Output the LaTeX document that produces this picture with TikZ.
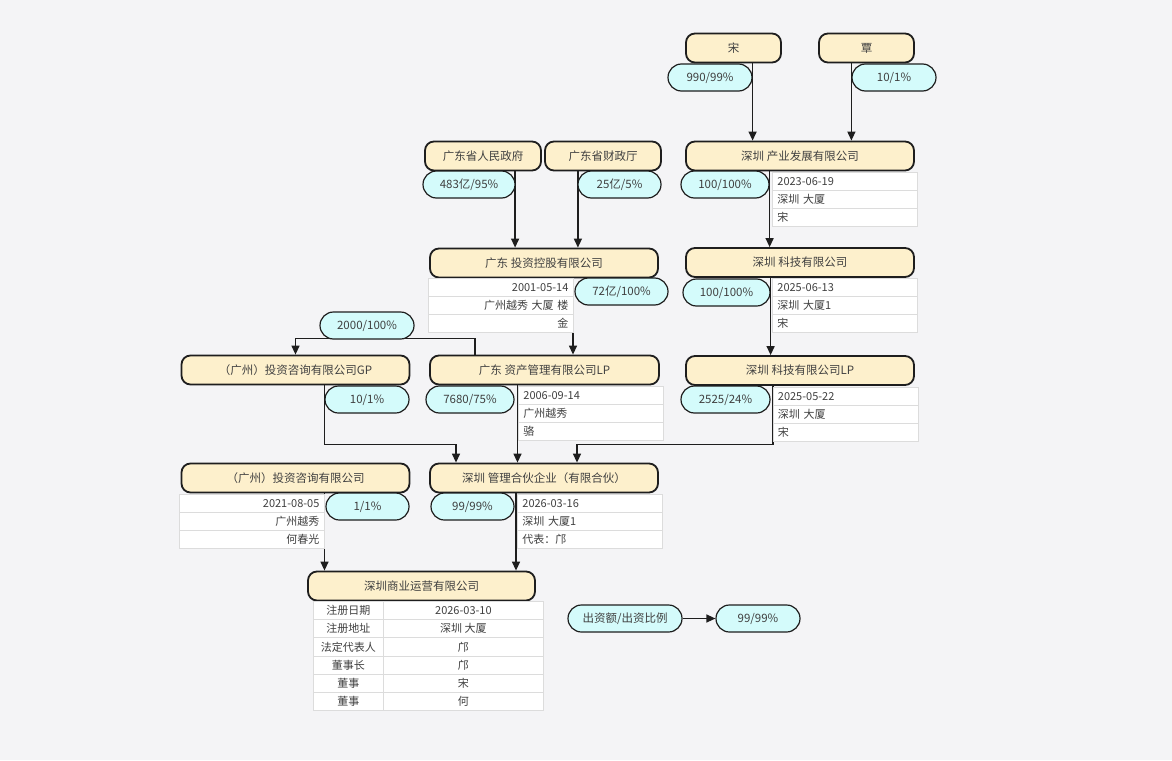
\documentclass[tikz,border=0pt]{standalone}
\usepackage{fontspec}
\setmainfont{Noto Sans CJK SC}
\usetikzlibrary{arrows.meta}
\definecolor{bgc}{HTML}{F4F4F6}
\definecolor{coyel}{HTML}{FDF0CC}
\definecolor{pilc}{HTML}{D4FBFB}
\definecolor{txtc}{HTML}{404040}
\definecolor{cellline}{HTML}{DCDCDC}
\definecolor{linec}{HTML}{1E1E1E}
\pgfdeclarelayer{back}
\pgfdeclarelayer{lines}
\pgfsetlayers{back,lines,main}
\begin{document}
\begin{tikzpicture}[x=1pt,y=-1pt,
  co/.style={draw=linec, line width=1.8pt, fill=coyel, rounded corners=9pt, minimum height=29pt, inner sep=0pt, text=txtc, font=\fontsize{11.5}{13}\selectfont},
  pill/.style={draw=linec, line width=1.2pt, fill=pilc, rounded corners=13.5pt, minimum height=27pt, inner sep=0pt, text=txtc, font=\fontsize{11.5}{13}\selectfont},
  cell/.style={draw=cellline, line width=0.8pt, fill=white, minimum height=18pt, inner ysep=0pt, inner xsep=5pt, text width=135pt, align=left, anchor=north west, text=txtc, font=\fontsize{11}{12}\selectfont},
  cellr/.style={cell, align=right},
  cellc/.style={draw=cellline, line width=0.8pt, fill=white, minimum height=18.2pt, inner sep=0pt, anchor=north west, text=txtc, font=\fontsize{11}{12}\selectfont},
  arr/.style={draw=linec, line width=1.3pt, -{Triangle[length=9pt,width=8pt]}}
]
\useasboundingbox (0,0) rectangle (1172,760);
\begin{pgfonlayer}{back}
\fill[bgc] (0,0) rectangle (1172,760);
\end{pgfonlayer}

% company boxes
\node[co, minimum width=95pt] (song) at (733.5,48) {宋};
\node[co, minimum width=95pt] (qin) at (866.5,48) {覃};
\node[co, minimum width=228pt] (cy) at (800,156) {深圳 产业发展有限公司};
\node[co, minimum width=116pt] (gdgov) at (483,156) {广东省人民政府};
\node[co, minimum width=116pt] (gdcz) at (603,156) {广东省财政厅};
\node[co, minimum width=228pt] (gdtk) at (544,263) {广东 投资控股有限公司};
\node[co, minimum width=228pt] (szkj) at (800,262.5) {深圳 科技有限公司};
\node[co, minimum width=228pt] (gzgp) at (295.5,370) {（广州）投资咨询有限公司GP};
\node[co, minimum width=229pt] (gdzc) at (544.5,370) {广东 资产管理有限公司LP};
\node[co, minimum width=228pt] (szkjlp) at (800,370.5) {深圳 科技有限公司LP};
\node[co, minimum width=228pt] (gzzx) at (295.5,478) {（广州）投资咨询有限公司};
\node[co, minimum width=228pt] (szhh) at (544,478) {深圳 管理合伙企业（有限合伙）};
\node[co, minimum width=227pt] (szsy) at (421.5,586) {深圳商业运营有限公司};

% tables
\node[cell] (t1a) at (772,172) {2023-06-19};
\node[cell] (t1b) at (772,190) {深圳 大厦};
\node[cell] (t1c) at (772,208) {宋};

\node[cellr] (t2a) at (428,278) {2001-05-14};
\node[cellr] (t2b) at (428,296) {广州越秀 大厦 楼};
\node[cellr] (t2c) at (428,314) {金};

\node[cell] (t3a) at (772,278) {2025-06-13};
\node[cell] (t3b) at (772,296) {深圳 大厦1};
\node[cell] (t3c) at (772,314) {宋};

\node[cell] (t4a) at (518,386) {2006-09-14};
\node[cell] (t4b) at (518,404) {广州越秀};
\node[cell] (t4c) at (518,422) {骆};

\node[cell] (t5a) at (772.5,387) {2025-05-22};
\node[cell] (t5b) at (772.5,405) {深圳 大厦};
\node[cell] (t5c) at (772.5,423) {宋};

\node[cellr] (t6a) at (179,494) {2021-08-05};
\node[cellr] (t6b) at (179,512) {广州越秀};
\node[cellr] (t6c) at (179,530) {何春光};

\node[cell] (t7a) at (517,494) {2026-03-16};
\node[cell] (t7b) at (517,512) {深圳 大厦1};
\node[cell] (t7c) at (517,530) {代表：邝};

\node[cellc, minimum width=70pt] (t8l1) at (313,601) {注册日期};
\node[cellc, minimum width=160pt] (t8r1) at (383,601) {2026-03-10};
\node[cellc, minimum width=70pt] (t8l2) at (313,619.2) {注册地址};
\node[cellc, minimum width=160pt] (t8r2) at (383,619.2) {深圳 大厦};
\node[cellc, minimum width=70pt] (t8l3) at (313,637.4) {法定代表人};
\node[cellc, minimum width=160pt] (t8r3) at (383,637.4) {邝};
\node[cellc, minimum width=70pt] (t8l4) at (313,655.6) {董事长};
\node[cellc, minimum width=160pt] (t8r4) at (383,655.6) {邝};
\node[cellc, minimum width=70pt] (t8l5) at (313,673.8) {董事};
\node[cellc, minimum width=160pt] (t8r5) at (383,673.8) {宋};
\node[cellc, minimum width=70pt] (t8l6) at (313,692) {董事};
\node[cellc, minimum width=160pt] (t8r6) at (383,692) {何};

% pills
\node[pill, minimum width=84pt] (p1) at (710,77.5) {990/99\%};
\node[pill, minimum width=84pt] (p2) at (894,77.5) {10/1\%};
\node[pill, minimum width=92pt] (p3) at (469,184.5) {483亿/95\%};
\node[pill, minimum width=83pt] (p4) at (619.5,184.5) {25亿/5\%};
\node[pill, minimum width=88pt] (p5) at (725,184.5) {100/100\%};
\node[pill, minimum width=93pt] (p6) at (621.5,291.5) {72亿/100\%};
\node[pill, minimum width=87pt] (p7) at (726.5,292.5) {100/100\%};
\node[pill, minimum width=94pt] (p8) at (367,325.5) {2000/100\%};
\node[pill, minimum width=84pt] (p9) at (367,399.5) {10/1\%};
\node[pill, minimum width=88pt] (p10) at (470,399.5) {7680/75\%};
\node[pill, minimum width=89pt] (p11) at (725.5,399.5) {2525/24\%};
\node[pill, minimum width=83pt] (p12) at (367.5,506.5) {1/1\%};
\node[pill, minimum width=83pt] (p13) at (472.5,506.5) {99/99\%};
\node[pill, minimum width=114pt] (l1) at (625,618.5) {出资额/出资比例};
\node[pill, minimum width=84pt] (l2) at (758,618.5) {99/99\%};

% connectors
\begin{pgfonlayer}{lines}
\draw[arr] (p1.east |- song.south) -- (p1.east |- cy.north);
\draw[arr] (p2.west |- qin.south) -- (p2.west |- cy.north);
\draw[arr] ([xshift=-0.5pt]p3.east |- gdgov.south) -- ([xshift=-0.5pt]p3.east |- gdtk.north);
\draw[arr] ([xshift=0.5pt]p4.west |- gdcz.south) -- ([xshift=0.5pt]p4.west |- gdtk.north);
\draw[arr] (p5.east |- cy.south) -- (p5.east |- szkj.north);
\draw[arr] ([xshift=29pt]gdtk.south) -- ([xshift=29pt]gdtk.south |- gdzc.north);
\draw[arr] (p7.east |- szkj.south) -- (p7.east |- szkjlp.north);
\draw[arr] ([xshift=-69.5pt]gdzc.north) -- ++(0,-16) -| (gzgp.north);
\draw[arr] (p9.west |- gzgp.south) |- ([xshift=-88pt,yshift=18pt]szhh.north) -- ([xshift=-88pt]szhh.north);
\draw[arr] ([xshift=-27pt]gdzc.south) -- ([xshift=-27pt]gdzc.south |- szhh.north);
\draw[arr] ([xshift=-27pt]szkjlp.south) |- ([xshift=33pt,yshift=18pt]szhh.north) -- ([xshift=33pt]szhh.north);
\draw[arr] ([xshift=29pt]gzzx.south) -- ([xshift=29pt]gzzx.south |- szsy.north);
\draw[arr] ([xshift=-28pt]szhh.south) -- ([xshift=-28pt]szhh.south |- szsy.north);
\draw[arr] (l1.east) -- (l2.west);
\end{pgfonlayer}
\end{tikzpicture}
\end{document}
